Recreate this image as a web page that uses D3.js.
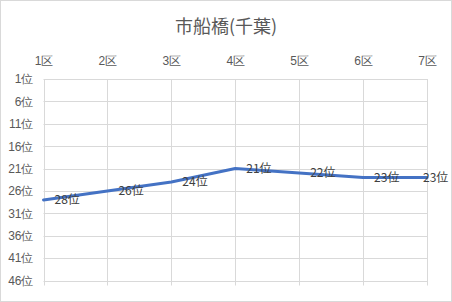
<!DOCTYPE html>
<html>
<head>
<meta charset="utf-8">
<script src="https://cdn.jsdelivr.net/npm/d3@7"></script>
<style>
  body { margin: 0; background: #fff; }
  svg { display: block; font-family: "Noto Sans CJK JP", "Noto Sans", sans-serif; }
</style>
</head>
<body>
<svg id="chart" width="452" height="302"></svg>
<script>
const title = '市船橋(千葉)'
const categories = ['1区', '2区', '3区', '4区', '5区', '6区', '7区']
const ranks = [28, 26, 24, 21, 22, 23, 23]
const rankTicks = [1, 6, 11, 16, 21, 26, 31, 36, 41, 46]

const width = 452, height = 302
const margin = {top: 79, right: 25, bottom: 21.5, left: 43.5}

const svg = d3.select('#chart')

// outer border
svg.append('rect')
  .attr('x', 0.5).attr('y', 0.5)
  .attr('width', width - 1).attr('height', height - 1)
  .attr('fill', '#fff').attr('stroke', '#d9d9d9')

const xScale = d3.scalePoint()
  .domain(categories)
  .range([margin.left, width - margin.right])

const yScale = d3.scaleLinear()
  .domain([1, 46])
  .range([margin.top, height - margin.bottom])

// horizontal grid
svg.append('g')
  .selectAll('line')
  .data(rankTicks)
  .join('line')
    .attr('x1', margin.left)
    .attr('x2', width - margin.right)
    .attr('y1', d => Math.round(yScale(d)) + 0.5)
    .attr('y2', d => Math.round(yScale(d)) + 0.5)
    .attr('stroke', '#d9d9d9')

// vertical grid
svg.append('g')
  .selectAll('line')
  .data(categories)
  .join('line')
    .attr('x1', d => Math.round(xScale(d)) + 0.5)
    .attr('x2', d => Math.round(xScale(d)) + 0.5)
    .attr('y1', margin.top)
    .attr('y2', height - margin.bottom + 5)
    .attr('stroke', '#d9d9d9')

// category axis at top
const xAxis = svg.append('g')
  .attr('transform', `translate(0, ${margin.top})`)
  .call(d3.axisTop(xScale).tickSize(0).tickPadding(14))
xAxis.select('.domain').remove()
xAxis.selectAll('text')
  .attr('fill', '#595959')
  .style('font-size', '12px')

// rank axis
const yAxis = svg.append('g')
  .attr('transform', `translate(${margin.left}, 0)`)
  .call(d3.axisLeft(yScale).tickValues(rankTicks).tickSize(0).tickPadding(10).tickFormat(d => d + '位'))
yAxis.select('.domain').remove()
yAxis.selectAll('text')
  .attr('fill', '#595959')
  .style('font-size', '12px')

// title
svg.append('text')
  .attr('x', width / 2)
  .attr('y', 33)
  .attr('text-anchor', 'middle')
  .attr('fill', '#595959')
  .style('font-size', '18px')
  .text(title)

const line = d3.line()
  .x((d, i) => xScale(categories[i]))
  .y(d => yScale(d))

svg.append('path')
  .datum(ranks)
  .attr('d', line)
  .attr('fill', 'none')
  .attr('stroke', '#4472c4')
  .attr('stroke-width', 3)
  .attr('stroke-linejoin', 'round')
  .attr('stroke-linecap', 'round')

// data labels, right of each point
svg.append('g')
  .selectAll('text')
  .data(ranks)
  .join('text')
    .attr('x', (d, i) => Math.min(xScale(categories[i]) + 11, width - 29))
    .attr('y', d => yScale(d))
    .attr('dy', '0.35em')
    .attr('fill', '#404040')
    .style('font-size', '12px')
    .text(d => d + '位')
</script>
</body>
</html>
